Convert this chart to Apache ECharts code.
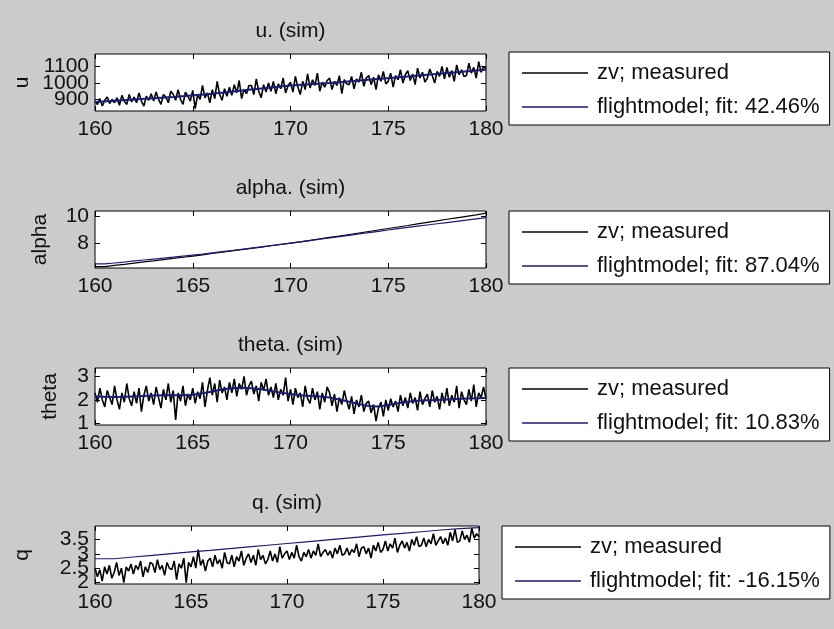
<!DOCTYPE html>
<html>
<head>
<meta charset="utf-8">
<script src="https://cdn.jsdelivr.net/npm/echarts@6/dist/echarts.min.js"></script>
<style>
  html, body { margin: 0; padding: 0; background: #cbcbcb; }
  #chart { width: 834px; height: 629px; }
</style>
</head>
<body>
<div id="chart"></div>
<script>
// sample clocks (seconds)
const T0 = 160;
const MEAS_DT = 0.125;

// u panel
const uMeasured = [
  890, 870, 905, 860, 895, 915, 875, 900,
  880, 910, 865, 925, 890, 870, 930, 885,
  915, 880, 940, 890, 860, 920, 895, 935,
  890, 945, 900, 870, 930, 915, 880, 950,
  930, 895, 960, 900, 870, 945, 920, 890,
  955, 845, 930, 900, 985, 910, 940, 880,
  960, 905, 1010, 930, 895, 965, 920, 975,
  925, 990, 940, 1015, 905, 960, 935, 985,
  985, 930, 1025, 950, 910, 990, 945, 1000,
  950, 1010, 935, 995, 965, 1030, 940, 985,
  1005, 945, 1040, 975, 930, 1010, 960, 1055,
  970, 1020, 985, 1060, 950, 1005, 975, 1015,
  1030, 960, 1010, 985, 1045, 935, 1020, 995,
  990, 1040, 965, 1025, 1005, 1065, 980, 1030,
  1045, 990, 1035, 960, 1050, 1010, 1070, 995,
  1010, 1060, 975, 1045, 1020, 1080, 1000, 1050,
  1075, 1015, 1055, 990, 1090, 1030, 1065, 1005,
  1030, 1085, 1045, 1000, 1070, 1040, 1100, 1025,
  1095, 1035, 1075, 1010, 1110, 1050, 1080, 1040,
  1045, 1120, 1060, 1095, 1030, 1130, 1065, 1100,
  1085
];
const uModelDt = 2;
const uModel = [885, 900, 915, 935, 960, 985, 1000, 1020, 1040, 1060, 1080];

// alpha panel (0.5 s steps)
const alphaDt = 0.5;
const alphaMeasured = [
  6.30, 6.39, 6.47, 6.56, 6.65, 6.73, 6.82, 6.91, 6.99, 7.08,
  7.17, 7.27, 7.36, 7.46, 7.55, 7.65, 7.74, 7.84, 7.93, 8.03,
  8.12, 8.23, 8.34, 8.45, 8.56, 8.67, 8.78, 8.89, 9.00, 9.11,
  9.22, 9.33, 9.45, 9.56, 9.67, 9.79, 9.90, 10.01, 10.12, 10.24,
  10.35
];
const alphaModel = [
  6.50, 6.57, 6.64, 6.72, 6.79, 6.86, 6.93, 7.00, 7.08, 7.15,
  7.22, 7.31, 7.40, 7.49, 7.58, 7.67, 7.76, 7.85, 7.94, 8.03,
  8.12, 8.22, 8.32, 8.41, 8.51, 8.61, 8.71, 8.81, 8.90, 9.00,
  9.10, 9.19, 9.28, 9.37, 9.46, 9.55, 9.64, 9.73, 9.82, 9.91,
  10.00
];

// theta panel
const thetaMeasured = [
  2.3, 1.9, 2.5, 2.0, 1.7, 2.4, 2.1, 1.8,
  2.6, 2.0, 1.6, 2.3, 1.9, 2.7, 2.05, 1.75,
  2.35, 1.85, 2.5, 1.5, 2.2, 2.6, 1.95, 2.3,
  1.8, 2.55, 2.1, 1.65, 2.45, 2.0, 2.7, 1.9,
  2.4, 1.15, 2.3, 1.95, 2.6, 1.75, 2.25, 2.0,
  2.5, 1.85, 2.35, 2.05, 2.75, 1.7, 2.4, 2.95,
  2.2, 2.7, 1.9, 2.85, 2.3, 2.55, 2.0, 2.75,
  2.3, 2.9, 2.15, 2.7, 2.45, 3.0, 2.2, 2.6,
  2.8, 2.25, 2.6, 1.95, 2.75, 2.4, 2.9, 2.2,
  2.55, 2.1, 2.7, 2.0, 2.45, 2.2, 2.95, 1.95,
  2.45, 1.8, 2.5, 2.1, 2.3, 1.7, 2.6, 2.05,
  1.85, 2.5, 2.0, 2.35, 1.6, 2.3, 1.9, 2.55,
  2.3, 1.75, 2.25, 1.5, 2.1, 1.8, 2.4, 1.95,
  1.6, 2.15, 1.4, 2.0, 1.7, 2.2, 1.5, 1.85,
  1.95, 1.45, 1.8, 1.1, 1.65, 1.9, 1.3, 2.0,
  1.55, 2.05, 1.7, 1.95, 1.5, 2.2, 1.75, 2.1,
  1.65, 2.3, 1.85, 2.1, 1.55, 2.35, 1.8, 2.05,
  2.25, 1.7, 2.4, 1.9, 2.15, 1.6, 2.3, 1.85,
  2.5, 1.75, 2.2, 1.9, 2.6, 1.65, 2.35, 2.0,
  1.8, 2.45, 1.95, 2.65, 1.7, 2.3, 2.1, 2.55,
  2.05
];
const thetaModelDt = 0.5;
const thetaModel = [
  2.15, 2.13, 2.12, 2.13, 2.15, 2.17, 2.19, 2.20, 2.20, 2.20,
  2.22, 2.28, 2.36, 2.44, 2.50, 2.52, 2.50, 2.45, 2.38, 2.31,
  2.25, 2.20, 2.17, 2.14, 2.10, 2.02, 1.92, 1.82, 1.74, 1.72,
  1.78, 1.86, 1.92, 1.96, 1.98, 2.00, 2.02, 2.04, 2.06, 2.07,
  2.08
];

// q panel
const qMeasured = [
  2.5, 2.2, 2.45, 2.05, 2.55, 2.3, 2.6, 2.15,
  2.35, 2.7, 2.25, 2.5, 2.0, 2.55, 2.4, 2.65,
  2.3, 2.6, 2.45, 2.75, 2.2, 2.55, 2.35, 2.7,
  2.65, 2.35, 2.8, 2.45, 2.6, 2.25, 2.7, 2.5,
  2.45, 2.75, 2.1, 2.65, 2.5, 2.85, 2.0, 2.7,
  2.55, 2.9, 2.5, 3.15, 2.6, 2.8, 2.4, 2.75,
  2.85, 2.55, 2.95, 2.65, 2.8, 2.5, 3.05, 2.7,
  2.65, 2.95, 2.55, 2.9, 2.75, 3.1, 2.6, 2.85,
  3.0, 2.7, 2.95, 2.6, 3.15, 2.8, 2.95, 2.65,
  2.8, 3.1, 2.75, 3.0, 2.7, 3.25, 2.85, 3.0,
  3.1, 2.8, 3.05, 2.85, 3.3, 2.9, 2.75, 3.05,
  2.9, 3.15, 2.85, 3.1, 2.95, 3.35, 2.9, 3.05,
  3.15, 2.95, 3.1, 2.85, 3.2, 3.0, 3.3, 2.95,
  3.0, 3.2, 2.95, 3.15, 3.05, 3.35, 2.9, 3.2,
  3.25, 3.0, 3.2, 2.85, 3.3, 3.1, 3.4, 3.05,
  3.15, 3.45, 3.1, 3.35, 3.2, 3.55, 3.05, 3.3,
  3.45, 3.2, 3.4, 3.1, 3.5, 3.3, 3.6, 3.25,
  3.3, 3.55, 3.25, 3.5, 3.35, 3.7, 3.3, 3.45,
  3.6, 3.35, 3.55, 3.3, 3.75, 3.45, 3.85, 3.4,
  3.45, 3.8, 3.5, 3.65, 3.4, 3.9, 3.55, 3.7,
  3.6
];
const qModelDt = 1;
const qModel = [
  2.83, 2.89, 2.95, 3.01, 3.07, 3.12, 3.18, 3.24, 3.30, 3.36,
  3.42, 3.48, 3.54, 3.60, 3.66, 3.71, 3.77, 3.83, 3.88, 3.91, 3.93
];

const xTicks = [160, 165, 170, 175, 180];
const uTicks = [900, 1000, 1100];
const alphaTicks = [8, 10];
const thetaTicks = [1, 2, 3];
const qTicks = [2, 2.5, 3, 3.5];

const measName = 'zv; measured';
const fitNames = [
  'flightmodel; fit: 42.46%',
  'flightmodel; fit: 87.04%',
  'flightmodel; fit: 10.83%',
  'flightmodel; fit: -16.15%'
];

function pairs(dt, vals) {
  return vals.map((v, i) => [T0 + i * dt, v]);
}

// tick labels that sit too close together are split over two overlaid axes,
// so that ECharts draws all of them crowded, the way MATLAB did
function splitAlternate(ticks) {
  return [ticks.filter((_, i) => i % 2 === 0), ticks.filter((_, i) => i % 2 === 1)];
}

const panels = [
  { title: 'u. (sim)', yName: 'u', nameGap: 62, box: [95, 54, 391, 57], ymin: 830, ymax: 1176, ticks: uTicks,
    meas: pairs(MEAS_DT, uMeasured), model: pairs(uModelDt, uModel), measStep: false, modelStep: false, legend: [509, 52] },
  { title: 'alpha. (sim)', yName: 'alpha', nameGap: 44, box: [95, 211, 391, 57], ymin: 6.2, ymax: 10.4, ticks: alphaTicks,
    meas: pairs(alphaDt, alphaMeasured), model: pairs(alphaDt, alphaModel), measStep: true, modelStep: true, legend: [509, 211] },
  { title: 'theta. (sim)', yName: 'theta', nameGap: 34, box: [95, 368, 391, 57], ymin: 0.93, ymax: 3.36, ticks: thetaTicks,
    meas: pairs(MEAS_DT, thetaMeasured), model: pairs(thetaModelDt, thetaModel), measStep: false, modelStep: false, legend: [509, 368] },
  { title: 'q. (sim)', yName: 'q', nameGap: 62, box: [95, 526, 384, 58], ymin: 1.95, ymax: 3.97, ticks: qTicks,
    meas: pairs(MEAS_DT, qMeasured), model: pairs(qModelDt, qModel), measStep: false, modelStep: true, legend: [502, 526] }
];

const FONT = 'Liberation Sans, Arial, sans-serif';
const MODEL_COLOR = '#1a1a7a';
const plain = v => String(v);

const grid = [], xAxis = [], yAxis = [], series = [], title = [], legend = [];

panels.forEach((p, k) => {
  const [l, t, w, h] = p.box;
  grid.push({ left: l, top: t, width: w, height: h, show: true, backgroundColor: '#fff', borderColor: '#000', borderWidth: 1 });
  title.push({
    text: p.title, left: l + w / 2, top: t - 33, textAlign: 'center', padding: 0,
    textStyle: { fontSize: 21, fontWeight: 'normal', color: '#111', fontFamily: FONT }
  });
  const xBase = {
    gridIndex: k, type: 'value', min: 160, max: 180, interval: 5,
    axisLine: { show: false }, splitLine: { show: false },
    axisTick: { inside: true, length: 5, lineStyle: { color: '#000' } }
  };
  xAxis.push(Object.assign({}, xBase, {
    position: 'bottom',
    axisLabel: { color: '#111', fontSize: 21, fontFamily: FONT, margin: 8, formatter: plain,
      customValues: xTicks, showMinLabel: true, showMaxLabel: true, hideOverlap: false }
  }));
  xAxis.push(Object.assign({}, xBase, { position: 'top', axisLabel: { show: false } }));

  const yBase = {
    gridIndex: k, type: 'value', min: p.ymin, max: p.ymax,
    axisLine: { show: false }, splitLine: { show: false },
    axisTick: { inside: true, length: 5, customValues: p.ticks, lineStyle: { color: '#000' } }
  };
  const labelStyle = { color: '#111', fontSize: 21, fontFamily: FONT, margin: 6, formatter: plain,
    showMinLabel: true, showMaxLabel: true, hideOverlap: false };
  const [labelsA, labelsB] = splitAlternate(p.ticks);
  p.yIndex = yAxis.length;
  yAxis.push(Object.assign({}, yBase, {
    position: 'left',
    name: p.yName, nameLocation: 'middle', nameRotate: 90, nameGap: p.nameGap,
    nameTextStyle: { fontSize: 21, color: '#111', fontFamily: FONT },
    axisLabel: Object.assign({ customValues: labelsA }, labelStyle)
  }));
  yAxis.push(Object.assign({}, yBase, { position: 'right', axisLabel: { show: false } }));
  yAxis.push(Object.assign({}, yBase, {
    position: 'left', offset: 0, axisTick: { show: false },
    axisLabel: Object.assign({ customValues: labelsB }, labelStyle)
  }));

  series.push({
    type: 'line', name: measName, xAxisIndex: 2 * k, yAxisIndex: p.yIndex,
    data: p.meas, symbol: 'none', step: p.measStep ? 'end' : false,
    color: '#000', lineStyle: { color: '#000', width: p.measStep ? 1.2 : 1.6 }, z: 2
  });
  series.push({
    type: 'line', name: fitNames[k], xAxisIndex: 2 * k, yAxisIndex: p.yIndex,
    data: p.model, symbol: 'none', step: p.modelStep ? 'end' : false,
    color: MODEL_COLOR, lineStyle: { color: MODEL_COLOR, width: p.modelStep ? 1.2 : 2 }, z: 3
  });

  legend.push({
    left: p.legend[0], top: p.legend[1], orient: 'vertical',
    data: [measName, fitNames[k]], selectedMode: false,
    icon: 'rect', itemWidth: 66, itemHeight: 1.5, itemGap: 12,
    padding: [10, 10, 7, 13],
    backgroundColor: '#fff', borderColor: '#000', borderWidth: 1, borderRadius: 0,
    textStyle: { fontSize: 22, color: '#111', fontFamily: FONT, padding: [0, 0, 0, 4] }
  });
});

const chart = echarts.init(document.getElementById('chart'));
chart.setOption({
  backgroundColor: '#cbcbcb',
  animation: false,
  textStyle: { fontFamily: FONT },
  title, grid, xAxis, yAxis, legend, series
});
</script>
</body>
</html>
